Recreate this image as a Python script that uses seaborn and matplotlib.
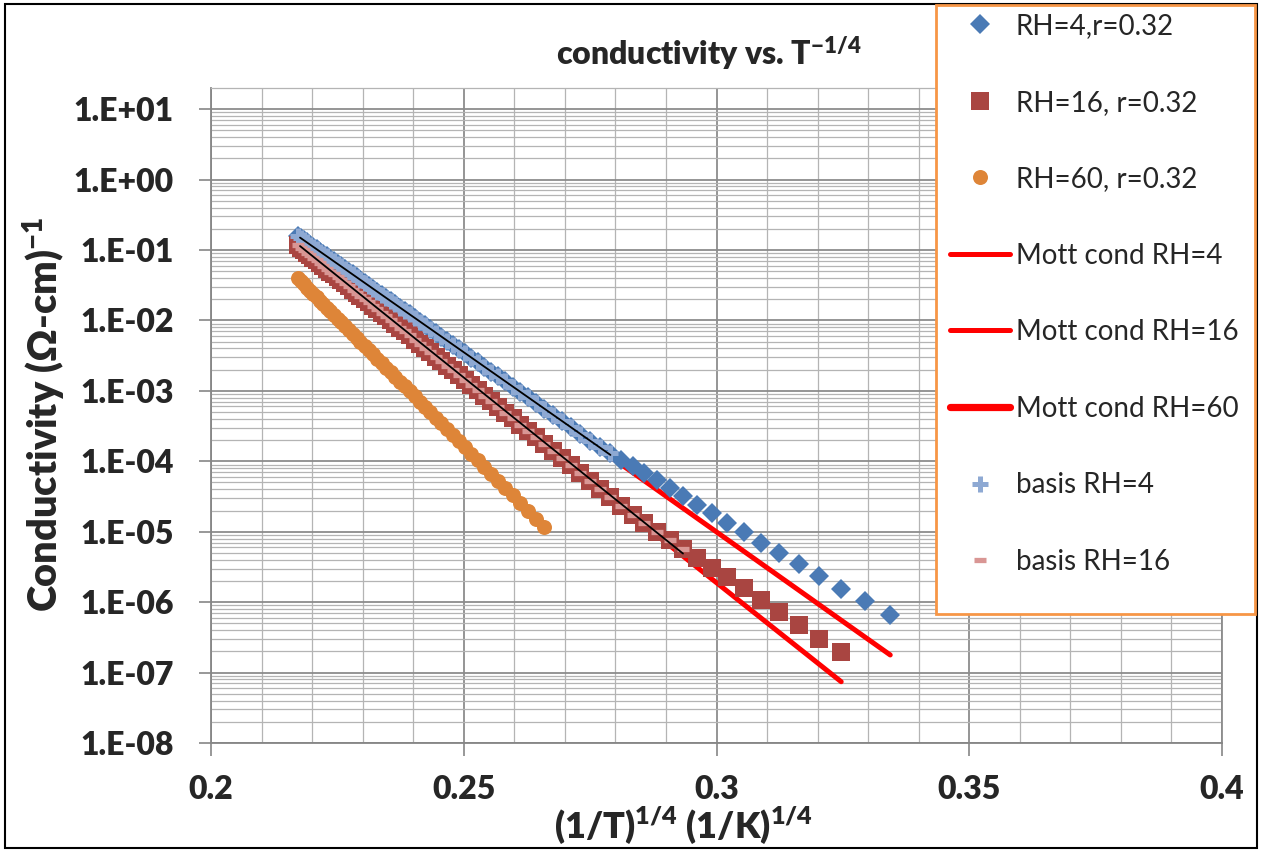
import numpy as np
import pandas as pd
import matplotlib
matplotlib.use("Agg")
import matplotlib.pyplot as plt
import seaborn as sns
from matplotlib.ticker import FixedLocator, MultipleLocator, LogLocator, NullFormatter
from matplotlib.patches import Rectangle

# ---------------- data ----------------
# x = (1/T)^(1/4)  in (1/K)^(1/4)
x_grid = [0.21712, 0.21773, 0.21834, 0.21897, 0.21960, 0.22025, 0.22090, 0.22156, 0.22223, 0.22291,
          0.22361, 0.22431, 0.22503, 0.22575, 0.22649, 0.22724, 0.22801, 0.22879, 0.22957, 0.23038,
          0.23120, 0.23203, 0.23288, 0.23374, 0.23463, 0.23552, 0.23643, 0.23737, 0.23832, 0.23929,
          0.24028, 0.24129, 0.24232, 0.24338, 0.24446, 0.24557, 0.24670, 0.24785, 0.24903, 0.25024,
          0.25149, 0.25276, 0.25407, 0.25541, 0.25679, 0.25820, 0.25965, 0.26115, 0.26269, 0.26428,
          0.26592, 0.26760, 0.26934, 0.27115, 0.27301, 0.27494, 0.27694, 0.27902, 0.28117, 0.28341,
          0.28574, 0.28818, 0.29072, 0.29337, 0.29615, 0.29907, 0.30213, 0.30537, 0.30878, 0.31239,
          0.31623, 0.32031, 0.32467, 0.32934, 0.33437]

# log10 conductivity (ohm-cm)^-1
log_rh4 = [-0.800, -0.831, -0.861, -0.893, -0.925, -0.957, -0.990, -1.023, -1.057, -1.091,
           -1.126, -1.162, -1.198, -1.234, -1.271, -1.309, -1.348, -1.387, -1.426, -1.467,
           -1.508, -1.550, -1.593, -1.636, -1.681, -1.726, -1.771, -1.819, -1.866, -1.915,
           -1.965, -2.016, -2.068, -2.121, -2.175, -2.231, -2.288, -2.346, -2.405, -2.466,
           -2.529, -2.593, -2.659, -2.726, -2.795, -2.866, -2.939, -3.015, -3.092, -3.172,
           -3.255, -3.339, -3.427, -3.518, -3.611, -3.708, -3.800, -3.887, -3.976, -4.070,
           -4.166, -4.270, -4.380, -4.495, -4.615, -4.740, -4.870, -5.010, -5.160, -5.305,
           -5.460, -5.625, -5.810, -5.990, -6.180]

log_rh16 = [-0.930, -0.965, -1.001, -1.037, -1.074, -1.111, -1.149, -1.187, -1.226, -1.265,
            -1.306, -1.346, -1.388, -1.430, -1.473, -1.516, -1.561, -1.606, -1.651, -1.698,
            -1.745, -1.793, -1.843, -1.892, -1.944, -1.995, -2.048, -2.102, -2.157, -2.214,
            -2.271, -2.329, -2.389, -2.450, -2.513, -2.577, -2.643, -2.709, -2.778, -2.848,
            -2.920, -2.994, -3.069, -3.147, -3.227, -3.309, -3.392, -3.479, -3.569, -3.661,
            -3.756, -3.853, -3.954, -4.058, -4.166, -4.278, -4.394, -4.514, -4.638, -4.765,
            -4.880, -5.000, -5.120, -5.245, -5.375, -5.510, -5.650, -5.805, -5.970, -6.140,
            -6.330, -6.520, -6.710]

log_rh60 = [-1.400, -1.444, -1.488, -1.534, -1.580, -1.627, -1.674, -1.722, -1.770, -1.820,
            -1.871, -1.921, -1.973, -2.026, -2.079, -2.134, -2.190, -2.246, -2.303, -2.361,
            -2.421, -2.481, -2.543, -2.605, -2.669, -2.734, -2.800, -2.868, -2.937, -3.007,
            -3.079, -3.152, -3.227, -3.304, -3.382, -3.463, -3.545, -3.628, -3.713, -3.801,
            -3.892, -3.984, -4.079, -4.176, -4.276, -4.378, -4.483, -4.592, -4.704, -4.819,
            -4.938]

n_basis_rh4 = 58    # basis points (high-T part) for RH=4
n_basis_rh16 = 64   # basis points for RH=16

# Mott fit lines (end points)
mott_rh4_x = [0.21712, 0.33437]
mott_rh4_log = [-0.79, -6.75]
mott_rh16_x = [0.21712, 0.32467]
mott_rh16_log = [-1.00, -7.13]
mott_rh60_x = [0.21712, 0.26592]
mott_rh60_log = [-1.42, -4.96]

# black trend lines over the basis points
trend_rh4_x = [0.21761, 0.27902]
trend_rh4_log = [-0.824, -3.91]
trend_rh16_x = [0.21761, 0.29337]
trend_rh16_log = [-0.944, -5.31]

x_ticks = [0.2, 0.25, 0.3, 0.35, 0.4]
x_tick_labels = ["0.2", "0.25", "0.3", "0.35", "0.4"]
y_exponents = [1, 0, -1, -2, -3, -4, -5, -6, -7, -8]
y_tick_labels = ["1.E+01", "1.E+00", "1.E-01", "1.E-02", "1.E-03",
                 "1.E-04", "1.E-05", "1.E-06", "1.E-07", "1.E-08"]

labels = ["RH=4,r=0.32", "RH=16, r=0.32", "RH=60, r=0.32",
          "Mott cond RH=4", "Mott cond RH=16", "Mott cond RH=60",
          "basis RH=4", "basis RH=16"]

# ---------------- styling ----------------
sns.set_theme(style="white")
plt.rcParams["font.family"] = ["Lato", "DejaVu Sans"]
plt.rcParams["mathtext.fontset"] = "custom"
plt.rcParams["mathtext.rm"] = "Lato"
plt.rcParams["mathtext.bf"] = "Lato:heavy"
plt.rcParams["mathtext.it"] = "Lato:italic"
BOLD = "heavy"

W, H = 1262, 852
fig = plt.figure(figsize=(W / 100, H / 100), dpi=100)
fig.patch.set_facecolor("white")
ax = fig.add_axes([211 / W, 1 - 743 / H, (1222 - 211) / W, (743 - 88) / H])
ax.set_facecolor("white")
ax.set_yscale("log")


def frame(x, logy):
    return pd.DataFrame({"x": np.asarray(x, float), "y": 10 ** np.asarray(logy, float)})


C_BLUE = "#4A7AB5"
C_RED = "#A94541"
C_ORANGE = "#DE8538"
C_MOTT = "#FF0000"
C_B4 = "#8EA9D3"
C_B16 = "#D99694"

n4, n16, n60 = len(log_rh4), len(log_rh16), len(log_rh60)

common = dict(ax=ax, x="x", y="y", estimator=None, sort=False)

# Mott lines (beneath markers)
sns.lineplot(data=frame(mott_rh4_x, mott_rh4_log), color=C_MOTT, lw=3.6,
             solid_capstyle="round", zorder=2, label=labels[3], **common)
sns.lineplot(data=frame(mott_rh16_x, mott_rh16_log), color=C_MOTT, lw=3.6,
             solid_capstyle="round", zorder=2, label=labels[4], **common)
sns.lineplot(data=frame(mott_rh60_x, mott_rh60_log), color=C_MOTT, lw=5.2,
             solid_capstyle="round", zorder=2, label=labels[5], **common)

# data markers
sns.lineplot(data=frame(x_grid[:n4], log_rh4), linestyle="", marker="D", markersize=10.2,
             color=C_BLUE, markeredgecolor=C_BLUE, markeredgewidth=0, zorder=3,
             label=labels[0], **common)
sns.lineplot(data=frame(x_grid[:n16], log_rh16), linestyle="", marker="s", markersize=13.5,
             color=C_RED, markeredgecolor=C_RED, markeredgewidth=0, zorder=3,
             label=labels[1], **common)
sns.lineplot(data=frame(x_grid[:n60], log_rh60), linestyle="", marker="o", markersize=10.8,
             color=C_ORANGE, markeredgecolor=C_ORANGE, markeredgewidth=0, zorder=3,
             label=labels[2], **common)

# basis markers
sns.lineplot(data=frame(x_grid[:n_basis_rh4], log_rh4[:n_basis_rh4]), linestyle="", marker="+",
             markersize=12, color=C_B4, markeredgecolor=C_B4, markeredgewidth=3.6, zorder=4,
             label=labels[6], **common)
sns.lineplot(data=frame(x_grid[:n_basis_rh16], log_rh16[:n_basis_rh16]), linestyle="", marker="_",
             markersize=9, color=C_B16, markeredgecolor=C_B16, markeredgewidth=3.8, zorder=4,
             label=labels[7], **common)

# black trend lines
sns.lineplot(data=frame(trend_rh4_x, trend_rh4_log), color="black", lw=1.3, zorder=5, **common)
sns.lineplot(data=frame(trend_rh16_x, trend_rh16_log), color="black", lw=1.3, zorder=5, **common)

if ax.get_legend() is not None:
    ax.get_legend().remove()

# axes
ax.set_xlim(0.2, 0.4)
ax.set_ylim(1e-8, 10 ** 1.3)
ax.xaxis.set_major_locator(FixedLocator(x_ticks))
ax.set_xticklabels(x_tick_labels)
ax.xaxis.set_minor_locator(MultipleLocator(0.01))
ax.yaxis.set_major_locator(FixedLocator([10.0 ** e for e in y_exponents]))
ax.set_yticklabels(y_tick_labels)
ax.yaxis.set_minor_locator(LogLocator(base=10, subs=np.arange(2, 10), numticks=100))
ax.yaxis.set_minor_formatter(NullFormatter())
ax.set_xlabel("")
ax.set_ylabel("")

ax.tick_params(axis="both", which="minor", length=0)
ax.tick_params(axis="x", which="major", direction="out", length=9, width=1.2,
               color="#868686", pad=14, labelsize=23, bottom=True)
ax.tick_params(axis="y", which="major", direction="out", length=9, width=1.2,
               color="#868686", pad=18, labelsize=23, left=True)
for t in ax.get_xticklabels() + ax.get_yticklabels():
    t.set_fontweight(BOLD)

ax.grid(True, which="major", color="#8C8C8C", lw=1.3)
ax.grid(True, which="minor", color="#B4B4B4", lw=0.9)
ax.set_axisbelow(True)
for side in ["left", "bottom"]:
    ax.spines[side].set_color("#868686")
    ax.spines[side].set_linewidth(1.3)
ax.spines["top"].set_color("#B4B4B4")
ax.spines["top"].set_linewidth(0.9)
ax.spines["right"].set_color("#8C8C8C")
ax.spines["right"].set_linewidth(1.3)

# texts
fig.text(709 / W, 1 - 66 / H, r"conductivity vs. T$^{\mathbf{-1/4}}$", ha="center", va="baseline",
         fontsize=23, fontweight=BOLD)
fig.text(683 / W, 1 - 838 / H, r"(1/T)$^{\mathbf{1/4}}$ (1/K)$^{\mathbf{1/4}}$", ha="center",
         va="baseline", fontsize=26, fontweight=BOLD)
fig.text(44 / W, 1 - 414 / H, r"Conductivity (Ω-cm)$^{\mathbf{-1}}$", ha="center", va="center",
         rotation=90, fontsize=28.5, fontweight=BOLD)

# outer chart border
fig.patches.append(Rectangle((5 / W, 4 / H), 1252 / W, 844 / H, transform=fig.transFigure,
                             fill=False, edgecolor="black", lw=1.5, zorder=0.5))
# legend box
fig.patches.append(Rectangle((936 / W, 1 - 614 / H), 319 / W, 609 / H, transform=fig.transFigure,
                             facecolor="white", edgecolor="#F79646", lw=2.0, zorder=3))

handles, labs = ax.get_legend_handles_labels()
hmap = dict(zip(labs, handles))
leg = fig.legend([hmap[l] for l in labels], labels, loc="upper left",
                 bbox_to_anchor=(950 / W, 1 - 13 / H), frameon=False, fontsize=20,
                 labelspacing=1.82, handlelength=2.16, handletextpad=0.2, borderpad=0,
                 borderaxespad=0, numpoints=1)
leg.set_zorder(6)

fig.savefig("out.png", dpi=100, facecolor="white")
